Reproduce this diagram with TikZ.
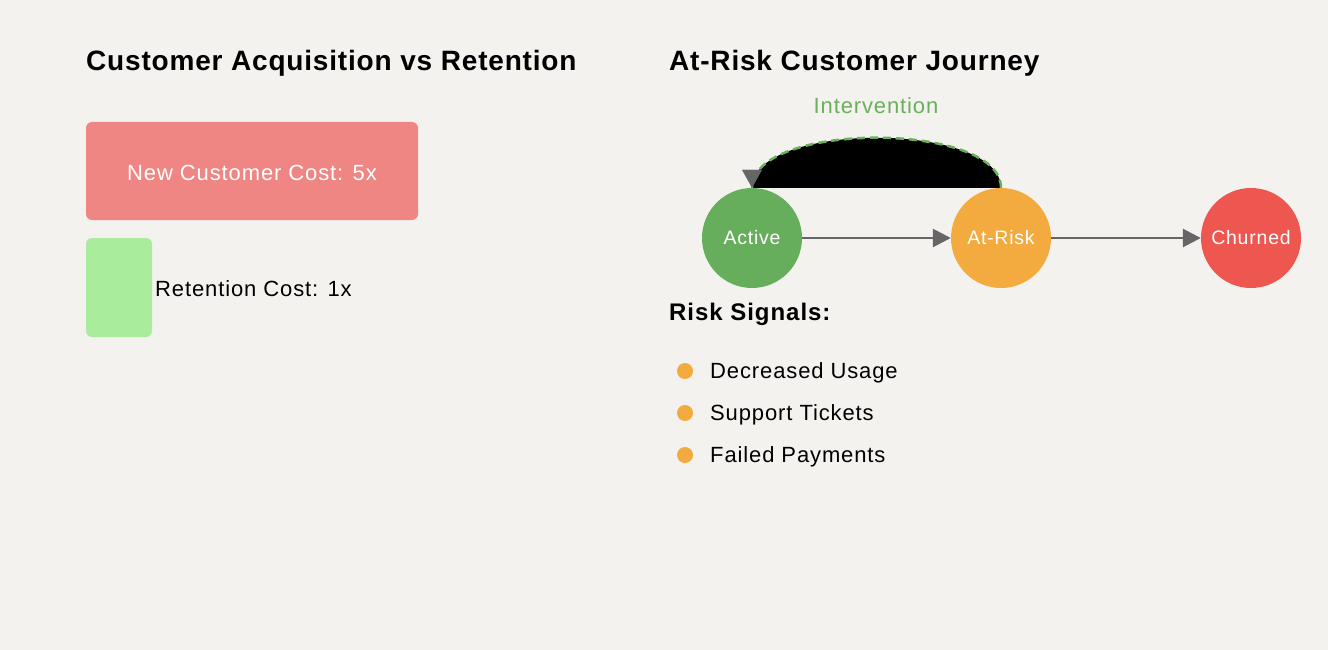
\documentclass[tikz,border=0pt]{standalone}
\usepackage{fontspec}
\setmainfont{Liberation Sans}
\newfontfamily\bodyfont[LetterSpace=4]{Liberation Sans}
\newfontfamily\titlefont[LetterSpace=2.9]{Liberation Sans}
\usetikzlibrary{arrows.meta}
\definecolor{bg}{HTML}{F3F2EF}
\definecolor{redbox}{HTML}{F08683}
\definecolor{greenbox}{HTML}{A8EC9C}
\definecolor{activec}{HTML}{66AD5C}
\definecolor{riskc}{HTML}{F3AA3E}
\definecolor{churnc}{HTML}{EE5650}
\definecolor{arrowc}{HTML}{666666}
\definecolor{intc}{HTML}{6AB05A}
\tikzset{
  title/.style={anchor=base west, inner sep=0pt, font=\titlefont\fontsize{28}{32}\selectfont\bfseries},
  state/.style={circle, minimum size=100pt, inner sep=0pt, text=white, font=\bodyfont\fontsize{19.5}{22}\selectfont},
  flow/.style={draw=arrowc, line width=2.7pt, -{Triangle[length=18pt,width=18pt]}},
  bullet/.style={circle, fill=riskc, minimum size=16pt, inner sep=0pt},
  item/.style={anchor=west, inner sep=0pt, font=\bodyfont\fontsize{22}{26}\selectfont},
}
\begin{document}
\begin{tikzpicture}[x=1pt,y=-1pt]
\fill[bg] (0,0) rectangle (1328,650);
\useasboundingbox (0,0) rectangle (1328,650);
% left
\node[title] (t1) at (86,71) {Customer Acquisition vs Retention};
\node[fill=redbox, rounded corners=6pt, minimum width=332pt, minimum height=98pt, inner sep=0pt] (newc) at (252,171) {};
\node[inner sep=0pt, text=white, font=\bodyfont\fontsize{22}{26}\selectfont] (newct) at (252,173) {New Customer Cost: 5x};
\node[fill=greenbox, rounded corners=6pt, minimum width=66pt, minimum height=99pt, inner sep=0pt] (retbar) at (119,287.5) {};
\node[anchor=west, inner sep=0pt, font=\bodyfont\fontsize{22}{26}\selectfont] (rett) at (155,289) {Retention Cost: 1x};
% right
\node[title] (t2) at (669,71) {At-Risk Customer Journey};
\node[state, fill=activec] (active) at (752,238) {Active};
\node[state, fill=riskc] (atrisk) at (1001,238) {At-Risk};
\node[state, fill=churnc] (churned) at (1251,238) {Churned};
\draw[flow] (active) -- (atrisk);
\draw[flow] (atrisk) -- (churned);
\fill[black] (atrisk.north) .. controls (1001,121) and (752,121) .. (active.north) -- cycle;
\draw[draw=intc, line width=2.5pt, dash pattern=on 8pt off 5pt]
  (atrisk.north) .. controls (1001,121) and (752,121) .. (active.north);
\coordinate (tipbase) at ([yshift=18pt]active.north);
\draw[arrowc, line width=0.1pt, -{Triangle[length=18pt,width=20pt]}] (tipbase) -- (active.north);
\node[text=intc, font=\bodyfont\fontsize{22}{26}\selectfont] (intl) at (876,106) {Intervention};
\node[anchor=base west, inner sep=0pt, font=\bodyfont\fontsize{24}{28}\selectfont\bfseries] (rs) at (669,320) {Risk Signals:};
\node[bullet] (b1) at (685,371) {};
\node[bullet] (b2) at (685,413) {};
\node[bullet] (b3) at (685,455) {};
\node[item] (i1) at (710,373) {Decreased Usage};
\node[item] (i2) at (710,415) {Support Tickets};
\node[item] (i3) at (710,457) {Failed Payments};
\end{tikzpicture}
\end{document}
